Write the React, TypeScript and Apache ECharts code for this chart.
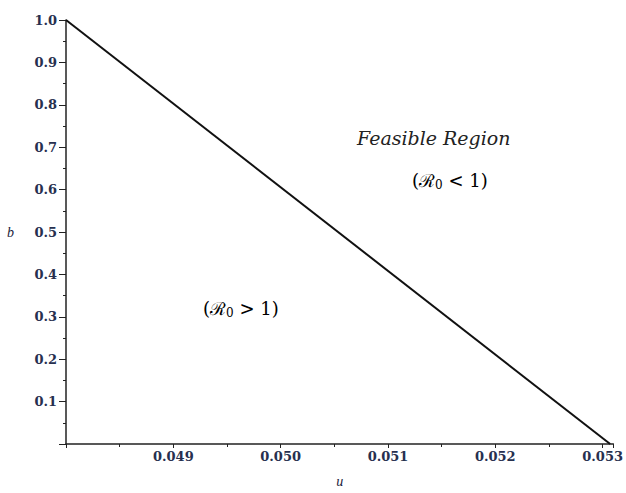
import React, { useEffect, useRef } from "react";
import * as echarts from "echarts";

const uValues = [0.048, 0.05307];
const bValues = [1.0, 0.0];
const xTicks = [0.049, 0.05, 0.051, 0.052, 0.053];
const yTicks = [0.1, 0.2, 0.3, 0.4, 0.5, 0.6, 0.7, 0.8, 0.9, 1.0];
const regionTitle = "Feasible Region";

const tickFont = "DejaVu Serif";
const mathFont = "DejaVu Serif";

export default function App() {
  const ref = useRef<HTMLDivElement>(null);
  useEffect(() => {
    if (!ref.current) return;
    const chart = echarts.init(ref.current, null, { renderer: "svg" });
    const near = (v: number, arr: number[]) => arr.some((t) => Math.abs(t - v) < 1e-9);
    chart.setOption({
      animation: false,
      backgroundColor: "#ffffff",
      grid: { left: 66, right: 10, top: 20, bottom: 38, containLabel: false },
      xAxis: {
        type: "value",
        min: 0.048,
        max: 0.0531,
        interval: 0.001,
        name: "u",
        nameLocation: "middle",
        nameGap: 30,
        nameTextStyle: { fontFamily: "Liberation Serif", fontStyle: "italic", fontSize: 14, color: "#1a1a3a" },
        axisLine: { show: true, onZero: false, lineStyle: { color: "#222", width: 1.5 } },
        axisTick: { show: true, inside: false, length: 4, lineStyle: { color: "#222", width: 1 } },
        minorTick: { show: true, splitNumber: 2, length: 3, lineStyle: { color: "#222", width: 1 } },
        splitLine: { show: false },
        axisLabel: {
          margin: 6,
          fontFamily: tickFont,
          fontSize: 13,
          fontWeight: "bold",
          color: "#27304f",
          formatter: (v: number) => (near(v, xTicks) ? v.toFixed(3) : ""),
        },
      },
      yAxis: {
        type: "value",
        min: 0,
        max: 1.0,
        interval: 0.1,
        name: "b",
        nameLocation: "middle",
        nameGap: 52,
        nameRotate: 0,
        nameTextStyle: { fontFamily: "Liberation Serif", fontStyle: "italic", fontSize: 14, color: "#1a1a3a" },
        axisLine: { show: true, onZero: false, lineStyle: { color: "#222", width: 1.5 } },
        axisTick: { show: true, inside: false, length: 7, lineStyle: { color: "#222", width: 1 } },
        minorTick: { show: true, splitNumber: 2, length: 3, lineStyle: { color: "#222", width: 1 } },
        splitLine: { show: false },
        axisLabel: {
          margin: 9,
          fontFamily: tickFont,
          fontSize: 13,
          fontWeight: "bold",
          color: "#27304f",
          formatter: (v: number) => (near(v, yTicks) ? v.toFixed(1) : ""),
        },
      },
      series: [
        {
          type: "line",
          data: uValues.map((u, i) => [u, bValues[i]]),
          symbol: "none",
          lineStyle: { color: "#111", width: 2 },
        },
      ],
      graphic: [
        {
          type: "text",
          left: 357,
          top: 128,
          style: {
            text: regionTitle,
            font: `italic 19px ${mathFont}`,
            fill: "#222",
          },
        },
        {
          type: "text",
          left: 412,
          top: 171,
          style: {
            text: "{a|(ℛ}{s|0}{a| < 1)}",
            rich: {
              a: { fontFamily: mathFont, fontSize: 18, color: "#222" },
              s: { fontFamily: mathFont, fontSize: 12, color: "#222", padding: [9, 0, 0, 0] },
            },
          },
        },
        {
          type: "text",
          left: 203,
          top: 299,
          style: {
            text: "{a|(ℛ}{s|0}{a| > 1)}",
            rich: {
              a: { fontFamily: mathFont, fontSize: 18, color: "#222" },
              s: { fontFamily: mathFont, fontSize: 12, color: "#222", padding: [9, 0, 0, 0] },
            },
          },
        },
      ],
    });
    return () => chart.dispose();
  }, []);
  return (
    <div
      ref={ref}
      style={{ position: "absolute", left: 0, top: 0, width: 626, height: 493 }}
    />
  );
}
